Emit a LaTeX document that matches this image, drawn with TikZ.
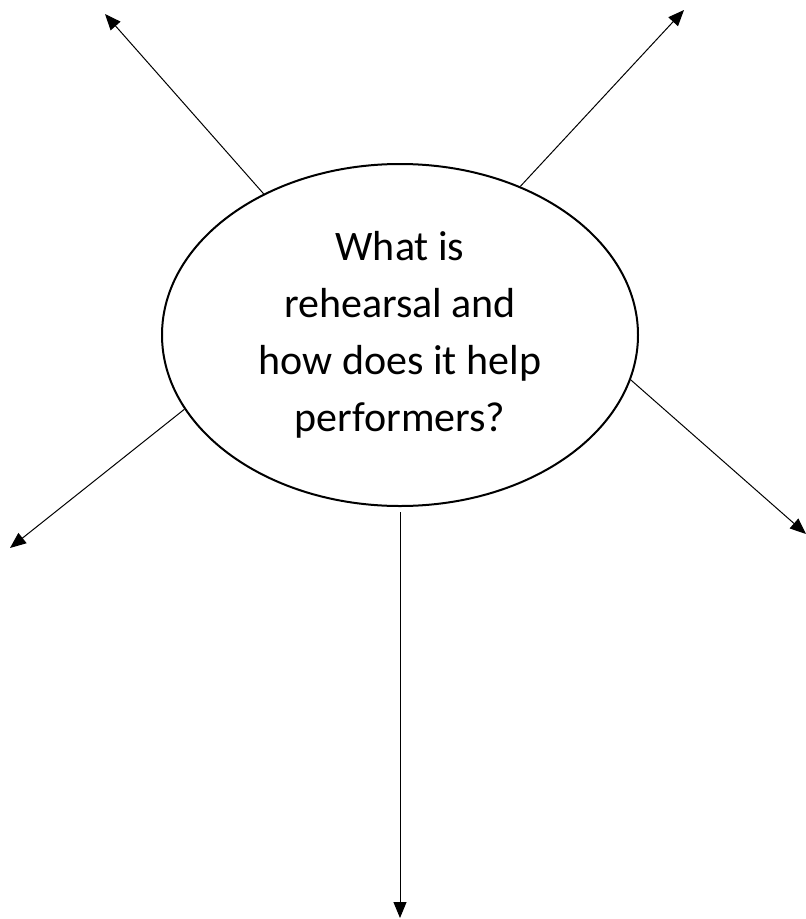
\documentclass[tikz,border=0pt]{standalone}
\usepackage{fontspec}
\setmainfont{Carlito}
\usepackage{tikz}
\usetikzlibrary{shapes.geometric}
\usetikzlibrary{arrows.meta}

\begin{document}
\begin{tikzpicture}[x=1pt,y=-1pt,
    spoke/.style={line width=1pt, -{Triangle[length=16pt,width=13pt]}},
    topic/.style={ellipse, draw, line width=2pt, inner sep=0pt,
        minimum width=476pt, minimum height=342pt, align=center,
        font=\fontsize{42}{57}\selectfont}]
    \useasboundingbox (0,0) rectangle (806,919);
    \node[topic] (q) at (400, 335) {What is\\rehearsal and\\how does it help\\performers?};
    % Free Ends:
    \coordinate (tl) at (105, 14);
    \coordinate (tr) at (684, 10);
    \coordinate (rr) at (806, 534);
    \coordinate (bl) at (10, 548);
    \coordinate (bb) at (400, 918);
    %
    % Spokes:
  \draw[spoke] (q.134.6) -- (tl);
  \draw[spoke] (q.51.7) -- (tr);
  \draw[spoke] (q.-11.9) -- (rr);
  \draw[spoke] (q.199.9) -- (bl);
  \draw[spoke, shorten <=5pt] (q.south) -- (bb);
    \end{tikzpicture}
\end{document}
